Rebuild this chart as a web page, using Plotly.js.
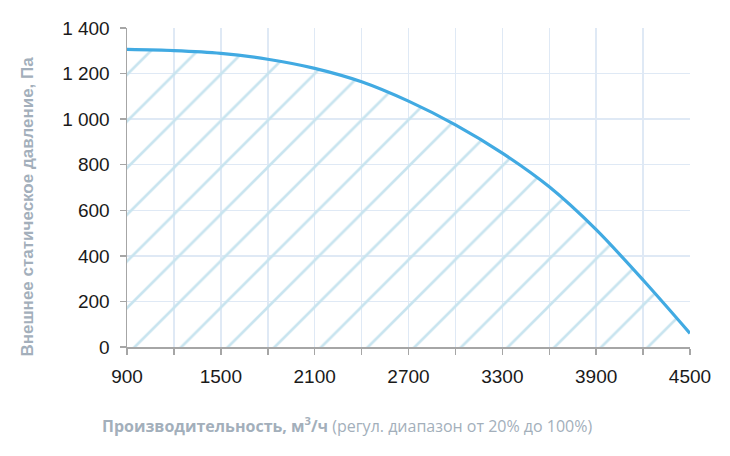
<!DOCTYPE html>
<html>
<head>
<meta charset="utf-8">
<script src="https://cdn.plot.ly/plotly-3.0.1.min.js"></script>
<style>
  html, body { margin: 0; padding: 0; background: #fff; }
  #chart { width: 730px; height: 456px; }
</style>
</head>
<body>
<div id="chart"></div>
<script>
// Fan curve: external static pressure vs air flow
var flow = [900, 1200, 1500, 1800, 2100, 2400, 2700, 3000, 3300, 3600, 3900, 4200, 4500];
var pressure = [1306, 1301, 1289, 1263, 1223, 1164, 1079, 975, 851, 703, 515, 294, 60];

var xTitleBold = 'Производительность, м<sup>3</sup>/ч';
var xTitleRest = ' (регул. диапазон от 20% до 100%)';
var yTitle = 'Внешнее статическое давление, Па';

var gridColor = '#dfe9f5';
var axisColor = '#a6a6a6';
var titleColor = '#a3afbb';

var trace = {
  x: flow,
  y: pressure,
  mode: 'lines',
  line: { color: '#41aae2', width: 3.2, shape: 'spline', smoothing: 0.8 },
  fill: 'tozeroy',
  fillcolor: 'rgba(0,0,0,0)',
  fillpattern: { shape: '/', size: 33, solidity: 0.08, fgcolor: '#c8e4ef', bgcolor: 'rgba(0,0,0,0)' },
  hoverinfo: 'x+y'
};

var tickFont = { family: '"Liberation Sans Narrow", "Arial Narrow", Arial, sans-serif', size: 19, color: '#1a1a1a' };

var layout = {
  width: 730,
  height: 456,
  margin: { l: 127, r: 40, t: 28, b: 109 },
  paper_bgcolor: '#fff',
  plot_bgcolor: '#fff',
  showlegend: false,
  separators: ', ',
  xaxis: {
    range: [900, 4500],
    tick0: 900,
    dtick: 600,
    ticks: 'outside',
    ticklen: 6,
    tickcolor: axisColor,
    tickwidth: 1.5,
    showline: true,
    linecolor: axisColor,
    linewidth: 1.5,
    showgrid: true,
    gridcolor: gridColor,
    gridwidth: 1.5,
    zeroline: false,
    tickfont: tickFont,
    ticklabelstandoff: 6,
    minor: { tick0: 900, dtick: 300, ticks: 'outside', ticklen: 6, tickcolor: axisColor, tickwidth: 1.5, showgrid: true, gridcolor: gridColor, gridwidth: 1.5 }
  },
  yaxis: {
    range: [0, 1400],
    dtick: 200,
    ticks: 'outside',
    ticklen: 6,
    tickcolor: axisColor,
    tickwidth: 1.5,
    showline: true,
    linecolor: axisColor,
    linewidth: 1.5,
    showgrid: true,
    gridcolor: gridColor,
    gridwidth: 1.5,
    zeroline: false,
    separatethousands: true,
    tickfont: tickFont,
    ticklabelstandoff: 6
  },
  annotations: [{
    xref: 'paper', yref: 'paper',
    x: -0.048, y: -0.245,
    xanchor: 'left', yanchor: 'middle',
    showarrow: false,
    text: '<b>' + xTitleBold + '</b>' + xTitleRest,
    font: { family: '"Open Sans", sans-serif', size: 16, color: titleColor }
  }, {
    xref: 'paper', yref: 'paper',
    x: -0.176, y: 0.44,
    xanchor: 'center', yanchor: 'middle',
    textangle: -90,
    showarrow: false,
    text: '<b>' + yTitle + '</b>',
    font: { family: 'Arial, "Liberation Sans", sans-serif', size: 17, color: titleColor }
  }]
};

Plotly.newPlot('chart', [trace], layout, { displayModeBar: false, staticPlot: true });
</script>
</body>
</html>
